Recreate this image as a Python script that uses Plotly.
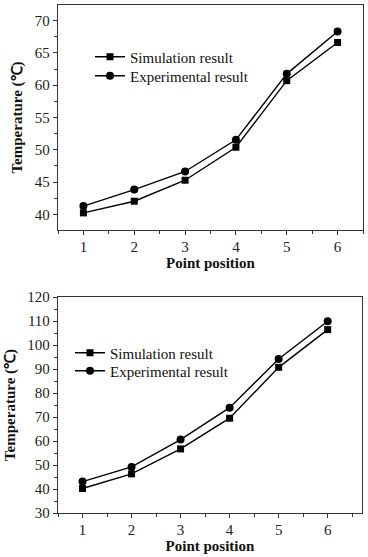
import plotly.graph_objects as go

W, H = 368, 557
positions = [1, 2, 3, 4, 5, 6]
sim_a = [40.25, 42.05, 45.3, 50.4, 60.7, 66.6]
exp_a = [41.3, 43.85, 46.65, 51.55, 61.75, 68.3]
sim_b = [40.2, 46.3, 56.7, 69.5, 90.7, 106.4]
exp_b = [43.1, 49.2, 60.6, 73.9, 94.2, 109.9]

FONT = "Liberation Serif, Times New Roman, serif"

def py(px):
    return 1 - px / H

def pxx(px):
    return px / W

fig = go.Figure()
line = dict(color="black", width=1.4)
specs = [
    ("x", "y", sim_a, "Simulation result", "square", 7, "legend"),
    ("x", "y", exp_a, "Experimental result", "circle", 8, "legend2"),
    ("x2", "y2", sim_b, "Simulation result", "square", 7, "legend3"),
    ("x2", "y2", exp_b, "Experimental result", "circle", 8, "legend4"),
]
for xa, ya, vals, name, sym, sz, lg in specs:
    fig.add_trace(go.Scatter(x=positions, y=vals, mode="lines+markers", name=name,
                             line=line, marker=dict(symbol=sym, size=sz, color="black"),
                             xaxis=xa, yaxis=ya, legend=lg))

axis_common = dict(showline=True, linecolor="#333", linewidth=1.3, mirror=True, ticks="outside",
                   ticklen=4, tickwidth=1, tickcolor="#333", showgrid=False, zeroline=False,
                   automargin=False,
                   tickfont=dict(family=FONT, size=15, color="#222"))
title_font = dict(family=FONT, size=15, color="#111", weight="bold")
minor_common = dict(ticks="outside", ticklen=2.5, tickcolor="#333")

def leg(xp, yp):
    return dict(x=pxx(xp), y=py(yp), xanchor="left", yanchor="middle", bgcolor="rgba(0,0,0,0)",
                font=dict(family=FONT, size=15, color="#111"), itemwidth=30)

fig.update_layout(
    width=W, height=H, margin=dict(l=0, r=0, t=0, b=0),
    paper_bgcolor="white", plot_bgcolor="white",
    showlegend=True,
    xaxis=dict(domain=[pxx(58), pxx(363)], range=[0.5, 6.5], anchor="y", dtick=1,
               ticklabelstandoff=-1, minor=dict(dtick=0.5, **minor_common),
               title=dict(text="Point position", font=title_font, standoff=0), **axis_common),
    yaxis=dict(domain=[py(230), py(5)], range=[37.6, 72.4], anchor="x", dtick=5,
               ticklabelstandoff=0, minor=dict(dtick=2.5, **minor_common),
               title=dict(text="Temperature (℃)", font=title_font, standoff=8), **axis_common),
    xaxis2=dict(domain=[pxx(58), pxx(362)], range=[0.5, 6.7], anchor="y2", dtick=1,
                ticklabelstandoff=-1, minor=dict(dtick=0.5, **minor_common),
                title=dict(text="Point position", font=title_font, standoff=0), **axis_common),
    yaxis2=dict(domain=[py(513), py(297)], range=[30, 120], anchor="x2", dtick=10,
                ticklabelstandoff=0, minor=dict(dtick=5, **minor_common),
                title=dict(text="Temperature (℃)", font=title_font, standoff=8), **axis_common),
    legend=leg(90, 57),
    legend2=leg(90, 76),
    legend3=leg(70, 353),
    legend4=leg(70, 371),
)

fig.write_html("out.html", config={"displayModeBar": False},
               post_script="document.body.style.margin='0';document.body.style.overflow='hidden';")
